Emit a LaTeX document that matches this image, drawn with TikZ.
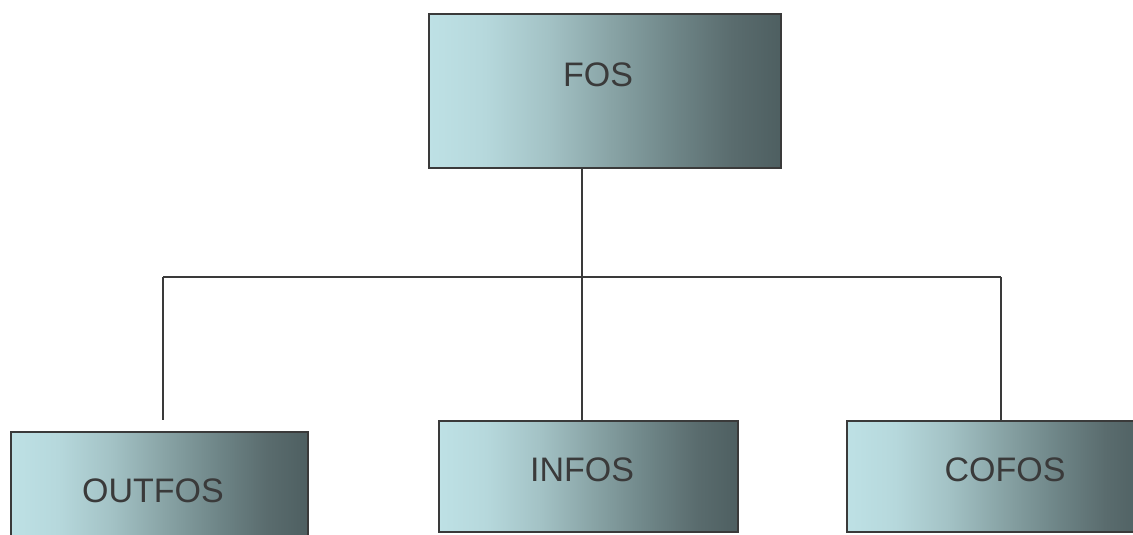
\documentclass[tikz,border=0pt]{standalone}
\usepackage{fontspec}
\setmainfont{Liberation Sans}
\definecolor{shA}{HTML}{BEE1E5}
\definecolor{shB}{HTML}{B6D8DC}
\definecolor{shC}{HTML}{A3C2C5}
\definecolor{shD}{HTML}{88A3A5}
\definecolor{shE}{HTML}{6E8587}
\definecolor{shF}{HTML}{5A6C6E}
\definecolor{shG}{HTML}{4E5F61}
\definecolor{edge}{HTML}{3A3A3A}
\definecolor{ink}{HTML}{3A3A3A}
% 25bp..75bp of the shading map onto the filled box
\pgfdeclarehorizontalshading{boxshade}{100bp}{%
  color(0bp)=(shA); color(25bp)=(shA); color(33bp)=(shB); color(42bp)=(shC);
  color(51bp)=(shD); color(60bp)=(shE); color(68bp)=(shF); color(75bp)=(shG);
  color(100bp)=(shG)}
\tikzset{
  box/.style={draw=edge, line width=1.8pt, shading=boxshade,
    rectangle, inner sep=0pt, anchor=north west},
  tag/.style={text=ink, font=\fontsize{34}{34}\selectfont, inner sep=0pt},
  link/.style={draw=edge, line width=1.6pt}
}
\begin{document}
\begin{tikzpicture}[x=1pt, y=-1pt]
\useasboundingbox (0,0) rectangle (1133,535);
% boxes
\node[box, minimum width=352pt, minimum height=154pt] (fos) at (428,13) {};
\node[box, minimum width=297pt, minimum height=120pt] (outfos) at (10,431) {};
\node[box, minimum width=299pt, minimum height=111pt] (infos) at (438,420) {};
\node[box, minimum width=300pt, minimum height=111pt] (cofos) at (846,420) {};
% labels
\node[tag] (tfos) at (598,75) {FOS};
\node[tag] (toutfos) at (153,491) {OUTFOS};
\node[tag] (tinfos) at (582,470) {INFOS};
\node[tag] (tcofos) at (1005,470) {COFOS};
% tree connectors
\coordinate (hub) at (582,277);
\coordinate (lhub) at (163,277);
\coordinate (rhub) at (1001,277);
\coordinate (oend) at (163,420);
\draw[link] (hub |- fos.south) -- (hub);
\draw[link] (lhub) -- (rhub);
\draw[link] (lhub) -- (oend);
\draw[link] (hub) -- (hub |- infos.north);
\draw[link] (rhub) -- (rhub |- cofos.north);
\end{tikzpicture}
\end{document}
